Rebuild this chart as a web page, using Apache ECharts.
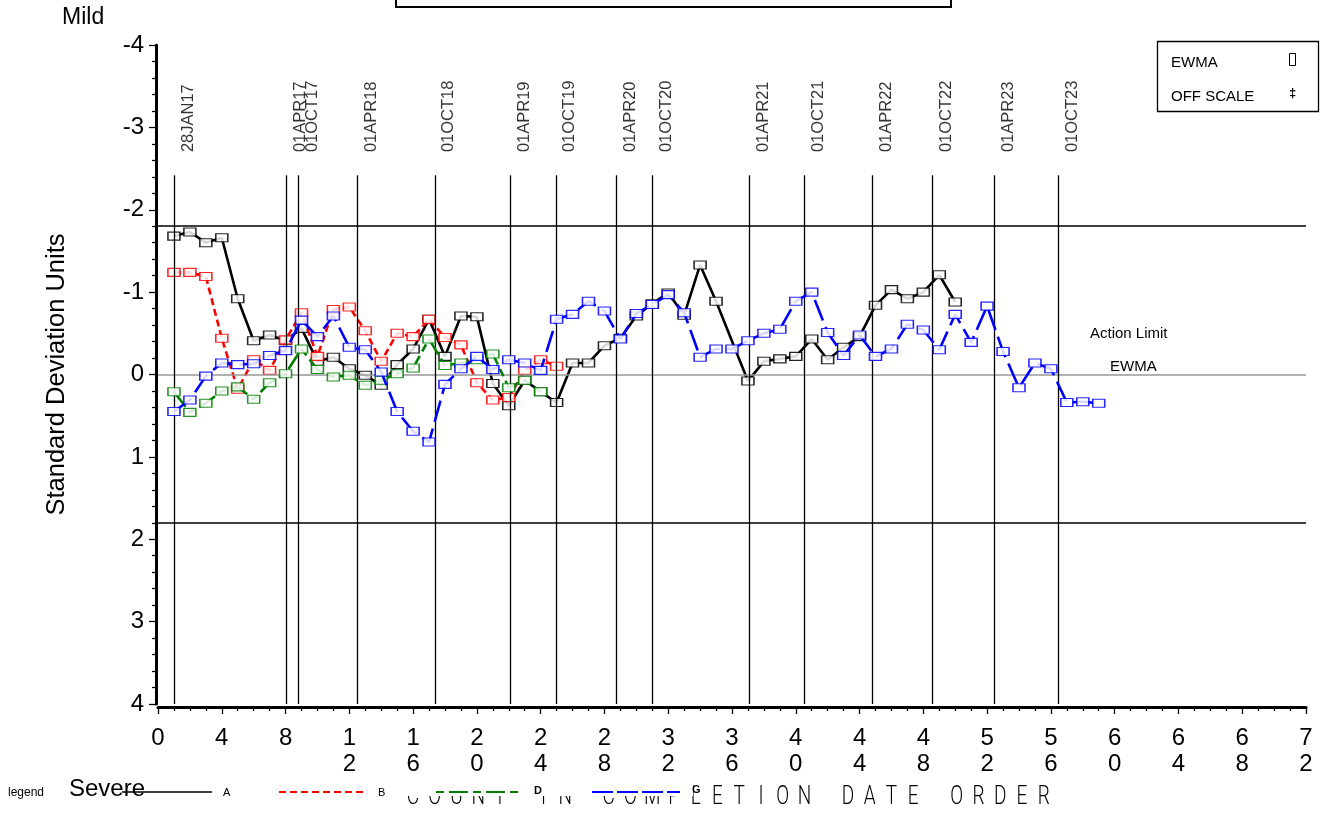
<!DOCTYPE html>
<html>
<head>
<meta charset="utf-8">
<title>EWMA</title>
<script src="https://cdn.jsdelivr.net/npm/echarts@6/dist/echarts.min.js"></script>
<style>
  html, body { margin: 0; padding: 0; background: #fff; }
  #chart { width: 1321px; height: 813px; }
</style>
</head>
<body>
<div id="chart"></div>
<script>
// values, x = count in completion date order
const serA = [-1.68, -1.73, -1.60, -1.66, -0.92, -0.41, -0.48, -0.41, -0.56, -0.16,
  -0.21, -0.07, 0.01, 0.13, -0.12, -0.31, -0.67, -0.22, -0.71, -0.70,
  0.11, 0.38, 0.07, 0.21, 0.34, -0.14, -0.14, -0.35, -0.44, -0.71,
  -0.86, -0.99, -0.72, -1.33, -0.89, null, 0.08, -0.16, -0.19, -0.22,
  -0.43, -0.18, -0.33, -0.46, -0.84, -1.03, -0.92, -1.00, -1.21, -0.88];
const serB = [-1.24, -1.24, -1.19, -0.44, 0.18, -0.18, -0.05, -0.42, -0.75, -0.22,
  -0.79, -0.82, -0.53, -0.16, -0.50, -0.46, -0.67, -0.45, -0.36, 0.10,
  0.31, 0.28, -0.05, -0.18, -0.10];
const serD = [0.21, 0.46, 0.35, 0.20, 0.15, 0.30, 0.10, -0.01, -0.31, -0.06,
  0.03, 0.01, 0.13, 0.07, -0.01, -0.08, -0.43, -0.11, -0.14, -0.18,
  -0.25, 0.16, 0.07, 0.21];
const serG = [0.45, 0.31, 0.02, -0.14, -0.12, -0.13, -0.23, -0.29, -0.66, -0.46,
  -0.71, -0.33, -0.30, -0.03, 0.45, 0.69, 0.82, 0.12, -0.07, -0.22,
  -0.06, -0.18, -0.14, -0.05, -0.67, -0.73, -0.89, -0.77, -0.43, -0.74,
  -0.85, -0.97, -0.75, -0.21, -0.31, -0.31, -0.41, -0.50, -0.55, -0.89,
  -1.00, -0.51, -0.23, -0.48, -0.22, -0.31, -0.61, -0.54, -0.30, -0.73,
  -0.39, -0.83, -0.28, 0.16, -0.14, -0.07, 0.34, 0.33, 0.35];

// date reference lines
const refX = [1.02, 8.07, 8.81, 12.48, 17.36, 22.11, 24.95, 28.74, 30.98, 37.11,
  40.54, 44.81, 48.56, 52.43, 56.47];
const refLabels = ['28JAN17', '01APR17', '01OCT17', '01APR18', '01OCT18', '01APR19',
  '01OCT19', '01APR20', '01OCT20', '01APR21', '01OCT21', '01APR22', '01OCT22',
  '01APR23', '01OCT23'];
const actionLimit = 1.8;
const refTop = -2.42;
const labelBase = -2.70;

const xTitle = 'COUNT IN COMPLETION DATE ORDER';
const FONT = '"Liberation Sans", Arial, sans-serif';

const toPairs = arr => arr.map((v, i) => [i + 1, v]);

const lineSeries = (name, arr, color, dash, z) => ({
  name: name,
  type: 'line',
  data: toPairs(arr),
  connectNulls: true,
  symbol: 'rect',
  symbolSize: [12, 8],
  z: z,
  lineStyle: { color: color, width: 2.6, type: dash },
  itemStyle: { color: '#fff', borderColor: color, borderWidth: 1.3, opacity: 0.85 },
  emphasis: { disabled: true },
  animation: false
});

const chart = echarts.init(document.getElementById('chart'));

const graphics = [];
// x axis title, letter by letter (wide spaced stroke font)
xTitle.split('').forEach((ch, i) => {
  if (ch === ' ') return;
  graphics.push({
    type: 'text', x: 413 + 21.75 * i, y: 798, scaleY: 1.35,
    style: { text: ch, fontFamily: 'Roboto, "DejaVu Sans", sans-serif', fontWeight: 300, fontSize: 19, fill: '#000',
      textAlign: 'center', textVerticalAlign: 'middle' }
  });
});
// legend strip sits over the top of the title
graphics.push(
  { type: 'rect', shape: { x: 395, y: 770, width: 298, height: 26 }, style: { fill: '#fff' } },
  { type: 'text', x: 8, y: 793, style: { text: 'legend', font: '12px ' + FONT, fill: '#000', textVerticalAlign: 'middle' } },
  { type: 'text', x: 69, y: 789, style: { text: 'Severe', font: '24px ' + FONT, fill: '#000', textVerticalAlign: 'middle' } },
  { type: 'line', shape: { x1: 122, y1: 792, x2: 212, y2: 792 }, style: { stroke: '#000', lineWidth: 1.3 } },
  { type: 'text', x: 223, y: 793, style: { text: 'A', font: '11px ' + FONT, fill: '#000', textVerticalAlign: 'middle' } },
  { type: 'line', shape: { x1: 279, y1: 792, x2: 365, y2: 792 }, style: { stroke: '#ff0000', lineWidth: 2, lineDash: [7, 4] } },
  { type: 'text', x: 378, y: 793, style: { text: 'B', font: '11px ' + FONT, fill: '#000', textVerticalAlign: 'middle' } },
  { type: 'line', shape: { x1: 436, y1: 792, x2: 518, y2: 792 }, style: { stroke: '#008000', lineWidth: 2, lineDash: [8, 5, 19, 5] } },
  { type: 'text', x: 534, y: 791, style: { text: 'D', font: 'bold 11px ' + FONT, fill: '#000', textVerticalAlign: 'middle' } },
  { type: 'line', shape: { x1: 592, y1: 792, x2: 680, y2: 792 }, style: { stroke: '#0000ff', lineWidth: 2, lineDash: [21, 4] } },
  { type: 'text', x: 692, y: 790, style: { text: 'G', font: 'bold 11px ' + FONT, fill: '#000', textVerticalAlign: 'middle' } },
  // header
  { type: 'text', x: 62, y: 18, style: { text: 'Mild', font: '23px ' + FONT, fill: '#000', textVerticalAlign: 'middle' } },
  { type: 'rect', shape: { x: 396, y: -20, width: 555, height: 27 }, style: { fill: 'none', stroke: '#000', lineWidth: 2 } },
  // symbol box top right
  { type: 'rect', shape: { x: 1157.5, y: 41.5, width: 161, height: 70 }, style: { fill: '#fff', stroke: '#000', lineWidth: 1.3 } },
  { type: 'text', x: 1171, y: 63, style: { text: 'EWMA', font: '15px ' + FONT, fill: '#000', textVerticalAlign: 'middle' } },
  { type: 'rect', shape: { x: 1289.5, y: 53.5, width: 6, height: 12 }, style: { fill: 'none', stroke: '#000', lineWidth: 1 } },
  { type: 'text', x: 1171, y: 97, style: { text: 'OFF SCALE', font: '15px ' + FONT, fill: '#000', textVerticalAlign: 'middle' } },
  { type: 'text', x: 1292.5, y: 93, style: { text: '\u2021', font: 'bold 13px ' + FONT, fill: '#000', textAlign: 'center', textVerticalAlign: 'middle' } },
  // right side notes
  { type: 'text', x: 1090, y: 334, style: { text: 'Action Limit', font: '15px ' + FONT, fill: '#000', textVerticalAlign: 'middle' } },
  { type: 'text', x: 1110, y: 367, style: { text: 'EWMA', font: '15px ' + FONT, fill: '#000', textVerticalAlign: 'middle' } }
);

const option = {
  backgroundColor: '#fff',
  animation: false,
  textStyle: { fontFamily: FONT },
  grid: { left: 158, top: 45, width: 1148, height: 659, containLabel: false },
  xAxis: {
    type: 'value',
    min: 0, max: 72, interval: 4,
    offset: 3,
    axisLine: { onZero: false, lineStyle: { color: '#000', width: 3 } },
    axisTick: { length: 7, lineStyle: { color: '#000', width: 1.3 } },
    minorTick: { show: true, splitNumber: 4, length: 4, lineStyle: { color: '#000', width: 1.3 } },
    splitLine: { show: false },
    axisLabel: {
      color: '#000', fontSize: 24, lineHeight: 26, margin: 18, fontFamily: FONT,
      formatter: v => String(v).split('').join('\n')
    }
  },
  yAxis: {
    type: 'value',
    inverse: true,
    min: -4, max: 4, interval: 1,
    offset: 2,
    name: 'Standard Deviation Units',
    nameLocation: 'middle',
    nameRotate: 90,
    nameGap: 86,
    nameTextStyle: { color: '#000', fontSize: 25.5, fontFamily: FONT },
    axisLine: { show: true, onZero: false, lineStyle: { color: '#000', width: 3 } },
    axisTick: { show: true, length: 7, lineStyle: { color: '#000', width: 1.3 } },
    minorTick: { show: true, splitNumber: 5, length: 4, lineStyle: { color: '#000', width: 1.3 } },
    splitLine: { show: false },
    axisLabel: { color: '#000', fontSize: 24, margin: 12, fontFamily: FONT }
  },
  graphic: { elements: graphics },
  series: [
    {
      name: 'refs',
      type: 'scatter',
      data: refX.map(x => [x, labelBase]),
      symbolSize: 1,
      itemStyle: { color: 'rgba(0,0,0,0)' },
      silent: true,
      z: 1,
      label: {
        show: true,
        position: 'inside',
        rotate: 90,
        align: 'left',
        verticalAlign: 'middle',
        offset: [0, 14],
        color: '#000',
        fontSize: 16.5,
        fontFamily: FONT,
        formatter: p => refLabels[p.dataIndex]
      },
      markLine: {
        silent: true,
        symbol: 'none',
        label: { show: false },
        animation: false,
        data: [
          { yAxis: -actionLimit, lineStyle: { color: '#000', width: 1.5, type: 'solid' } },
          { yAxis: actionLimit, lineStyle: { color: '#000', width: 1.5, type: 'solid' } },
          { yAxis: 0, lineStyle: { color: '#999', width: 1.5, type: 'solid' } }
        ].concat(refX.map(x => [
          { coord: [x, refTop], lineStyle: { color: '#000', width: 1.3, type: 'solid' } },
          { coord: [x, 4] }
        ]))
      }
    },
    lineSeries('A', serA, '#000000', 'solid', 3),
    lineSeries('B', serB, '#ff0000', [7, 4], 4),
    lineSeries('D', serD, '#008000', [19, 5, 8, 5], 5),
    lineSeries('G', serG, '#0000ff', [22, 7], 6)
  ]
};

chart.setOption(option);
</script>
</body>
</html>
